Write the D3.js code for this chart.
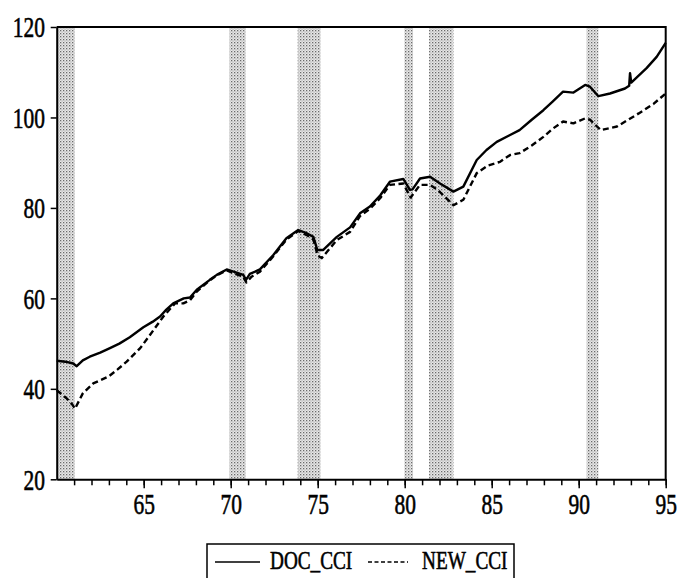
<!DOCTYPE html>
<html>
<head>
<meta charset="utf-8">
<script src="https://cdn.jsdelivr.net/npm/d3@7"></script>
<style>
  body { margin: 0; background: #fff; }
  text { font-family: "Liberation Serif", "Times New Roman", serif; fill: #000; stroke: #000; stroke-width: 0.6px; }
</style>
</head>
<body>
<div id="chart"></div>
<script>
// DOC_CCI (solid)
const docYears = [1960.0, 1960.5, 1960.95, 1961.15, 1961.5, 1961.9, 1962.5, 1963.06, 1963.6, 1964.2,
  1964.98, 1965.5, 1965.94, 1966.3, 1966.7, 1967.3, 1967.66, 1968.05, 1968.8, 1969.2,
  1969.77, 1970.34, 1970.72, 1970.88, 1971.1, 1971.68, 1972.45, 1973.2, 1973.88, 1974.37,
  1974.75, 1974.98, 1975.32, 1976.1, 1976.86, 1977.43, 1978.0, 1978.6, 1979.15, 1979.92,
  1980.3, 1980.45, 1980.88, 1981.46, 1982.03, 1982.8, 1983.37, 1984.14, 1984.7, 1985.29,
  1986.0, 1986.6, 1987.3, 1987.97, 1988.5, 1989.1, 1989.7, 1990.37, 1990.65, 1991.13,
  1991.8, 1992.66, 1992.9, 1992.95, 1993.02, 1993.9, 1994.48, 1995.0];
const docValues = [46.2, 46.0, 45.6, 45.0, 46.3, 47.1, 48.0, 49.0, 50.0, 51.4,
  53.6, 54.8, 56.0, 57.5, 58.9, 60.0, 60.2, 61.9, 64.1, 65.2,
  66.4, 65.7, 65.2, 64.1, 65.4, 66.4, 69.6, 73.3, 75.1, 74.4,
  73.6, 70.7, 70.7, 73.6, 75.7, 78.8, 80.3, 82.8, 85.8, 86.4,
  84.0, 84.1, 86.5, 86.9, 85.4, 83.6, 84.7, 90.6, 92.8, 94.6,
  96.0, 97.2, 99.5, 101.6, 103.5, 105.7, 105.5, 107.2, 106.8, 104.7,
  105.3, 106.4, 107.0, 109.8, 107.7, 110.9, 113.4, 116.5];

// NEW_CCI (dashed)
const newYears = [1960.0, 1960.57, 1960.9, 1961.05, 1961.5, 1962.1, 1962.97, 1963.5, 1964.02, 1964.8,
  1965.36, 1966.13, 1966.8, 1967.28, 1967.66, 1968.05, 1968.8, 1969.2, 1969.77, 1970.34,
  1970.72, 1970.9, 1971.2, 1971.68, 1972.45, 1973.2, 1973.88, 1974.37, 1974.75, 1975.0,
  1975.23, 1976.1, 1976.86, 1977.43, 1978.0, 1978.6, 1979.15, 1979.92, 1980.34, 1980.88,
  1981.46, 1981.9, 1982.8, 1983.37, 1984.14, 1984.8, 1985.48, 1986.06, 1986.6, 1987.3,
  1987.97, 1988.5, 1989.1, 1989.7, 1990.37, 1990.65, 1991.27, 1992.2, 1993.45, 1994.3, 1995.0];
const newValues = [39.7, 37.9, 36.5, 35.6, 39.0, 41.2, 42.7, 44.3, 46.0, 49.0,
  51.9, 56.0, 58.9, 58.9, 59.6, 61.5, 64.0, 65.1, 66.2, 65.3,
  64.8, 63.5, 64.8, 65.9, 69.3, 73.0, 74.9, 74.0, 73.0, 69.5,
  68.9, 72.9, 74.7, 78.2, 79.8, 82.2, 85.1, 85.4, 82.3, 85.1,
  85.1, 84.0, 80.6, 81.8, 87.7, 89.4, 90.2, 91.7, 92.1, 93.8,
  95.7, 97.5, 99.1, 98.7, 99.8, 99.5, 97.2, 98.0, 100.9, 103.0, 105.3];

// shaded recession bands
const recStart = [1960.0, 1969.92, 1973.85, 1979.98, 1981.4, 1990.45];
const recEnd = [1961.05, 1970.87, 1975.17, 1980.48, 1982.8, 1991.13];

const yTicks = [20, 40, 60, 80, 100, 120];
const xMajor = [1965, 1970, 1975, 1980, 1985, 1990, 1995];
const xMinor = d3.range(1961, 1996);
const legendNames = ["DOC_CCI", "NEW_CCI"];

const width = 677, height = 578;
const marginLeft = 56.7, marginRight = 11.3, marginTop = 27, marginBottom = 98.7;
const sx = 0.74; // condensed look of the labels

const x = d3.scaleLinear([1960, 1995], [marginLeft, width - marginRight]);
const y = d3.scaleLinear([20, 120], [height - marginBottom, marginTop]);

const svg = d3.select("#chart").append("svg")
  .attr("width", width).attr("height", height)
  .attr("viewBox", [0, 0, width, height]);

const pat = svg.append("defs").append("pattern")
  .attr("id", "dots").attr("patternUnits", "userSpaceOnUse")
  .attr("width", 3).attr("height", 3);
pat.append("rect").attr("width", 3).attr("height", 3).attr("fill", "#e8e8e8");
pat.append("rect").attr("width", 1.3).attr("height", 1.3).attr("fill", "#6a6a6a");
pat.append("rect").attr("x", 1.5).attr("y", 1.5).attr("width", 1.1).attr("height", 1.1).attr("fill", "#a0a0a0");

// recessions
svg.append("g")
  .selectAll("rect")
  .data(d3.range(recStart.length))
  .join("rect")
  .attr("x", (i) => x(recStart[i]))
  .attr("width", (i) => x(recEnd[i]) - x(recStart[i]))
  .attr("y", y(120))
  .attr("height", y(20) - y(120))
  .attr("fill", "url(#dots)");

// frame top and right
svg.append("path")
  .attr("fill", "none").attr("stroke", "#000").attr("stroke-width", 2)
  .attr("d", `M${x(1960)},${y(120)}H${x(1995)}V${y(20)}`);

// y axis
svg.append("g")
  .attr("transform", `translate(${marginLeft},0)`)
  .call(d3.axisLeft(y).tickValues(yTicks).tickSize(6).tickPadding(0).tickSizeOuter(0))
  .call((g) => g.select(".domain").attr("stroke-width", 2))
  .call((g) => g.selectAll(".tick line").attr("stroke-width", 1.5))
  .call((g) => g.selectAll(".tick text")
    .attr("font-size", 29)
    .attr("font-family", "Liberation Serif, serif")
    .attr("x", -11.7 / sx)
    .attr("dy", "0.34em")
    .attr("transform", `scale(${sx},1)`));

// x axis minor ticks
svg.append("g")
  .attr("transform", `translate(0,${y(20)})`)
  .call(d3.axisBottom(x).tickValues(xMinor).tickSize(6).tickFormat("").tickSizeOuter(0))
  .call((g) => g.select(".domain").attr("stroke-width", 2))
  .call((g) => g.selectAll(".tick line").attr("stroke-width", 1.5));

// x axis major ticks and labels
svg.append("g")
  .attr("transform", `translate(0,${y(20)})`)
  .call(d3.axisBottom(x).tickValues(xMajor).tickSize(9).tickSizeOuter(0)
    .tickFormat((d) => String(d % 100)))
  .call((g) => g.select(".domain").remove())
  .call((g) => g.selectAll(".tick line").attr("stroke-width", 1.5))
  .call((g) => g.selectAll(".tick text")
    .attr("font-size", 29)
    .attr("font-family", "Liberation Serif, serif")
    .attr("y", 35).attr("dy", 0)
    .attr("transform", `scale(${sx},1)`));

const line = d3.line().x((d) => x(d[0])).y((d) => y(d[1]));

svg.append("path")
  .attr("fill", "none").attr("stroke", "#000").attr("stroke-width", 2.4)
  .attr("stroke-linejoin", "round")
  .attr("d", line(d3.zip(newYears, newValues)))
  .attr("stroke-dasharray", "6,3.5");

svg.append("path")
  .attr("fill", "none").attr("stroke", "#000").attr("stroke-width", 2.4)
  .attr("stroke-linejoin", "round")
  .attr("d", line(d3.zip(docYears, docValues)));

// legend
const lg = svg.append("g");
lg.append("path")
  .attr("fill", "none").attr("stroke", "#000").attr("stroke-width", 1.5)
  .attr("d", "M207,580V544H514V580");
const items = [
  { x0: 215, x1: 260, tx: 270, dash: null },
  { x0: 368, x1: 408, tx: 422, dash: "4,2.5" },
];
items.forEach((it, i) => {
  lg.append("line")
    .attr("x1", it.x0).attr("x2", it.x1).attr("y1", 562).attr("y2", 562)
    .attr("stroke", "#000").attr("stroke-width", 1.5)
    .attr("stroke-dasharray", it.dash);
  lg.append("text")
    .attr("x", it.tx / sx).attr("y", 569)
    .attr("font-size", 26)
    .attr("transform", `scale(${sx},1)`)
    .text(legendNames[i]);
});
</script>
</body>
</html>
